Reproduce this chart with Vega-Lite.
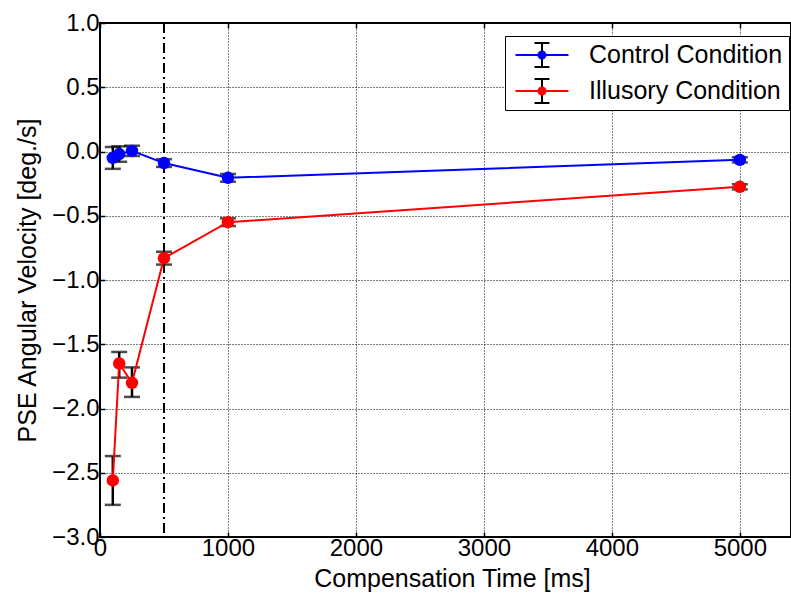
{
  "$schema": "https://vega.github.io/schema/vega-lite/v6.json",
  "width": 691,
  "height": 514,
  "autosize": {"type": "none"},
  "padding": {"left": 100, "top": 23, "right": 0, "bottom": 57},
  "background": "white",
  "config": {
    "view": {"stroke": "black", "strokeWidth": 2},
    "font": "Liberation Sans",
    "axis": {
      "domain": false,
      "grid": true,
      "gridColor": "black",
      "gridDash": [1, 2],
      "gridWidth": 1,
      "tickColor": "black",
      "tickSize": -5,
      "tickWidth": 1.5,
      "labelFlush": false,
      "labelFont": "Liberation Sans",
      "labelFontSize": 24,
      "labelColor": "black",
      "titleFont": "Liberation Sans",
      "titleFontSize": 25,
      "titleFontWeight": "normal",
      "titleColor": "black"
    }
  },
  "datasets": {
    "pts": [
      {"series": "Control Condition", "t": 100, "y": -0.05, "lo": -0.135, "hi": 0.035},
      {"series": "Control Condition", "t": 150, "y": -0.02, "lo": -0.08, "hi": 0.04},
      {"series": "Control Condition", "t": 250, "y": 0.005, "lo": -0.035, "hi": 0.045},
      {"series": "Control Condition", "t": 500, "y": -0.09, "lo": -0.12, "hi": -0.06},
      {"series": "Control Condition", "t": 1000, "y": -0.205, "lo": -0.235, "hi": -0.175},
      {"series": "Control Condition", "t": 5000, "y": -0.065, "lo": -0.085, "hi": -0.045},
      {"series": "Illusory Condition", "t": 100, "y": -2.56, "lo": -2.75, "hi": -2.37},
      {"series": "Illusory Condition", "t": 150, "y": -1.65, "lo": -1.76, "hi": -1.56},
      {"series": "Illusory Condition", "t": 250, "y": -1.8, "lo": -1.91, "hi": -1.68},
      {"series": "Illusory Condition", "t": 500, "y": -0.83, "lo": -0.88, "hi": -0.78},
      {"series": "Illusory Condition", "t": 1000, "y": -0.55, "lo": -0.58, "hi": -0.52},
      {"series": "Illusory Condition", "t": 5000, "y": -0.275, "lo": -0.295, "hi": -0.255}
    ],
    "marker": [{"t": 500}]
  },
  "layer": [
    {
      "data": {"name": "marker"},
      "mark": {"type": "rule", "color": "black", "strokeWidth": 2, "strokeDash": [10, 4, 2, 4]},
      "encoding": {
        "x": {
          "field": "t", "type": "quantitative",
          "scale": {"domain": [0, 5400], "nice": false, "zero": false},
          "axis": {"orient": "top", "labels": false, "title": null, "grid": false, "values": [0, 1000, 2000, 3000, 4000, 5000]}
        }
      }
    },
    {
      "data": {"name": "pts"},
      "mark": {"type": "errorbar", "ticks": {"size": 16, "thickness": 2.5}, "rule": {"strokeWidth": 2.5}},
      "encoding": {
        "x": {"field": "t", "type": "quantitative", "axis": null},
        "y": {"field": "lo", "type": "quantitative", "title": "PSE Angular Velocity [deg./s]"},
        "y2": {"field": "hi"},
        "color": {
          "field": "series", "type": "nominal",
          "scale": {"range": ["black", "black"]},
          "legend": {
            "orient": "none", "legendX": 405, "legendY": 13,
            "title": null,
            "symbolType": "M1.68,-1.08L1.68,1.08M1.0,-1.08L2.36,-1.08M1.0,1.08L2.36,1.08",
            "symbolSize": 484,
            "symbolStrokeWidth": 2,
            "symbolStrokeColor": "black",
            "symbolFillColor": "transparent",
            "clipHeight": 26,
            "labelFont": "Liberation Sans",
            "labelFontSize": 25,
            "labelOpacity": 0,
            "labelOffset": 53,
            "labelLimit": 0,
            "padding": 6,
            "rowPadding": 10,
            "strokeColor": "black",
            "fillColor": "white",
            "cornerRadius": 0,
            "symbolOpacity": 1
          }
        }
      }
    },
    {
      "data": {"name": "pts"},
      "layer": [
        {
          "mark": {"type": "line", "strokeWidth": 2},
          "encoding": {
            "x": {"field": "t", "type": "quantitative"},
            "y": {"field": "y", "type": "quantitative"},
            "color": {"field": "series", "type": "nominal"}
          }
        },
        {
          "mark": {"type": "point", "filled": true, "size": 155, "opacity": 1},
          "encoding": {
            "x": {"field": "t", "type": "quantitative"},
            "y": {"field": "y", "type": "quantitative"},
            "color": {"field": "series", "type": "nominal"}
          }
        }
      ],
      "encoding": {
        "x": {
          "field": "t", "type": "quantitative",
          "axis": {"orient": "bottom", "grid": true, "title": "Compensation Time [ms]", "titleX": 352, "values": [0, 1000, 2000, 3000, 4000, 5000], "labelPadding": 4, "titlePadding": 6, "format": "d"}
        },
        "y": {
          "field": "y", "type": "quantitative",
          "scale": {"domain": [-3, 1], "nice": false},
          "axis": {"title": "PSE Angular Velocity [deg./s]", "values": [-3, -2.5, -2, -1.5, -1, -0.5, 0, 0.5, 1], "format": ".1f", "labelPadding": 6, "titlePadding": 11}
        },
        "color": {
          "field": "series", "type": "nominal",
          "scale": {"range": ["#0000ff", "#ff0000"]},
          "legend": {
            "orient": "none", "legendX": 405, "legendY": 13,
            "title": null,
            "symbolType": "M-0.73,0L4.09,0M1.36,0A0.32,0.32,0,1,1,2.0,0A0.32,0.32,0,1,1,1.36,0Z",
            "symbolSize": 484,
            "symbolStrokeWidth": 2,
            "clipHeight": 26,
            "labelFont": "Liberation Sans",
            "labelFontSize": 25,
            "labelColor": "black",
            "labelOffset": 53,
            "labelLimit": 0,
            "padding": 6,
            "rowPadding": 10,
            "symbolOpacity": 1
          }
        }
      }
    }
  ],
  "resolve": {"scale": {"color": "independent"}, "axis": {"x": "independent"}}
}
